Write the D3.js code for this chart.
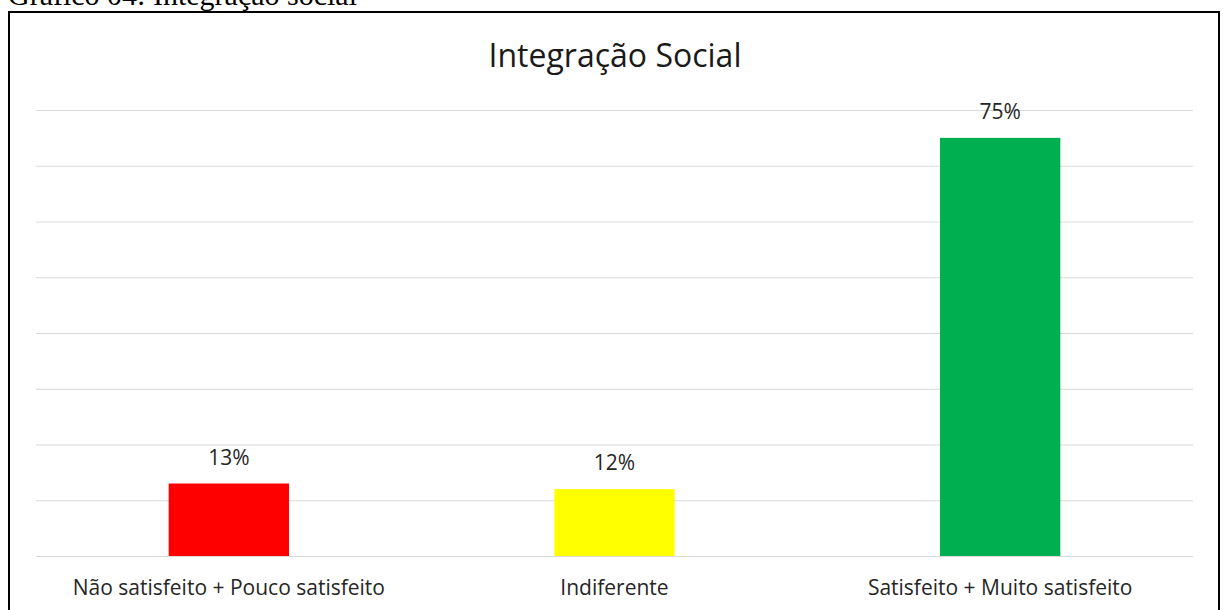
<!DOCTYPE html>
<html>
<head>
<meta charset="utf-8">
<script src="https://cdn.jsdelivr.net/npm/d3@7"></script>
<style>
    body { margin: 0; background: #fff; }
    svg { display: block; }
</style>
</head>
<body>
<div id="chart"></div>
<script>
const categories = ['Não satisfeito + Pouco satisfeito', 'Indiferente', 'Satisfeito + Muito satisfeito'];
const values = [13, 12, 75];
const barColors = ['#ff0000', '#ffff00', '#00b050'];
const yTicks = [0, 10, 20, 30, 40, 50, 60, 70, 80];

const width = 1223;
const height = 610;
const margin = { top: 110, right: 30, bottom: 54, left: 36 };

const svg = d3.select('#chart').append('svg')
    .attr('width', width)
    .attr('height', height);

// caption above the frame (cut off at the top, like the scan)
svg.append('text')
    .attr('x', 8)
    .attr('y', 5)
    .attr('font-family', 'Liberation Serif, Times New Roman, serif')
    .attr('font-size', 30)
    .attr('fill', '#000')
    .text('Gráfico 04: Integração social');

// chart frame
svg.append('rect')
    .attr('x', 9)
    .attr('y', 12)
    .attr('width', 1210)
    .attr('height', 640)
    .attr('fill', 'none')
    .attr('stroke', '#000')
    .attr('stroke-width', 2);

svg.append('text')
    .attr('x', 615)
    .attr('y', 67)
    .attr('text-anchor', 'middle')
    .attr('font-family', 'Open Sans, sans-serif')
    .attr('font-size', 32)
    .attr('fill', '#1a1a1a')
    .text('Integração Social');

const xScale = d3.scaleBand()
    .domain(categories)
    .range([margin.left, width - margin.right])
    .paddingInner(0.688)
    .paddingOuter(0.344);

const yScale = d3.scaleLinear()
    .domain([0, 80])
    .range([height - margin.bottom, margin.top]);

// gridlines
const yAxis = d3.axisLeft(yScale)
    .tickValues(yTicks)
    .tickSize(-(width - margin.left - margin.right))
    .tickFormat('');

const grid = svg.append('g')
    .attr('transform', `translate(${margin.left},0)`)
    .call(yAxis);
grid.select('.domain').remove();
grid.selectAll('.tick line')
    .attr('stroke', '#d9d9d9')
    .attr('stroke-width', 1);

// bars
svg.selectAll('.bar')
    .data(categories)
    .enter()
    .append('rect')
    .classed('bar', true)
    .attr('x', d => xScale(d))
    .attr('y', (d, i) => yScale(values[i]))
    .attr('width', xScale.bandwidth())
    .attr('height', (d, i) => yScale(0) - yScale(values[i]))
    .attr('fill', (d, i) => barColors[i]);

// data labels
svg.selectAll('.data-label')
    .data(categories)
    .enter()
    .append('text')
    .classed('data-label', true)
    .attr('x', d => xScale(d) + xScale.bandwidth() / 2)
    .attr('y', (d, i) => yScale(values[i]) - 19)
    .attr('text-anchor', 'middle')
    .attr('font-family', 'Open Sans, sans-serif')
    .attr('font-size', 21)
    .attr('fill', '#262626')
    .text((d, i) => `${values[i]}%`);

// category axis
const xAxis = d3.axisBottom(xScale).tickSize(0).tickPadding(0);
const xg = svg.append('g')
    .attr('transform', `translate(0,${height - margin.bottom})`)
    .call(xAxis);
xg.select('.domain').remove();
xg.selectAll('.tick text')
    .attr('dy', 0)
    .attr('y', 39)
    .attr('font-family', 'Open Sans, sans-serif')
    .attr('font-size', 21)
    .attr('fill', '#262626');
</script>
</body>
</html>
